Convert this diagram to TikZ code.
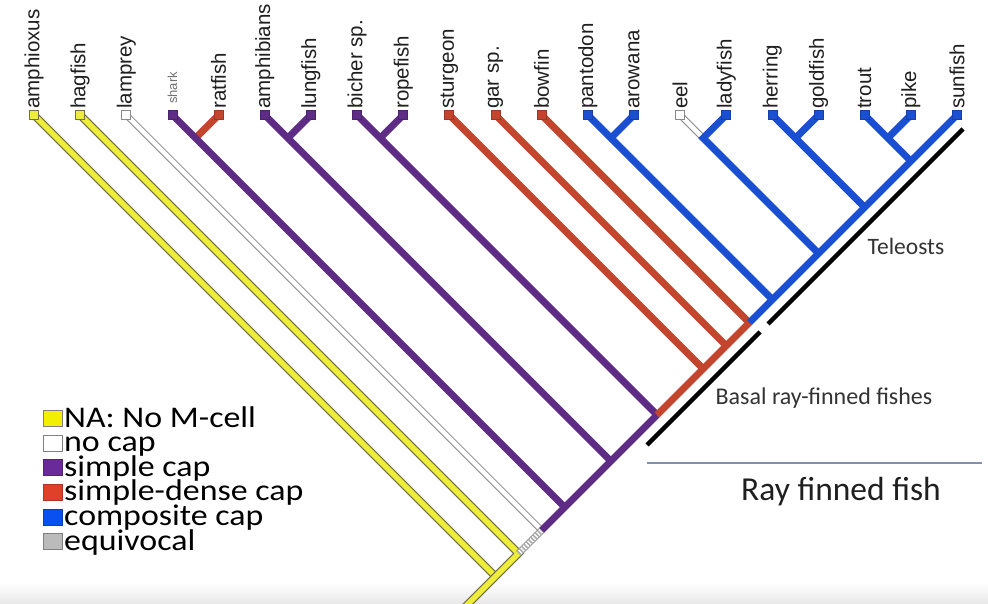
\documentclass[tikz,border=0pt]{standalone}
\usepackage{fontspec}
\usepackage{graphicx}
\setmainfont{Liberation Sans}
\newfontfamily\calib{Carlito}
\usetikzlibrary{calc}
\definecolor{cYel}{HTML}{EEEE3A}
\definecolor{cYelOut}{HTML}{707048}
\definecolor{cPur}{HTML}{5E2C84}
\definecolor{cRed}{HTML}{C4452E}
\definecolor{cBlu}{HTML}{1B4FD2}
\definecolor{cWOut}{HTML}{8A8A8A}
\definecolor{cSlate}{HTML}{8090B0}
\definecolor{lgYel}{HTML}{F2F000}
\definecolor{lgPur}{HTML}{6A2A9A}
\definecolor{lgRed}{HTML}{E0402A}
\definecolor{lgBlu}{HTML}{0A50F0}
\definecolor{lgGry}{HTML}{BBBBBB}
\begin{document}
\begin{tikzpicture}[x=1pt,y=-1pt,
  br/.style={line width=7pt, line join=miter},
  purp/.style={br, draw=cPur},
  redb/.style={br, draw=cRed},
  blub/.style={br, draw=cBlu},
  yelb/.style={draw=cYelOut, double=cYel, double distance=5.6pt, line width=1.2pt, line join=miter},
  whtb/.style={draw=cWOut, double=white, double distance=4.6pt, line width=1pt, line join=miter},
  tipsq/.style={rectangle, minimum size=9pt, inner sep=0pt, line width=0.8pt},
  lab/.style={rotate=90, anchor=west, inner sep=0pt, font=\fontsize{20.5}{24}\selectfont, text=black!88},
  bar/.style={draw=black, line width=4.5pt},
  ann/.style={font=\calib\fontsize{24}{28}\selectfont, text=black!80, inner sep=0pt},
  legsq/.style={rectangle, minimum width=19pt, minimum height=16pt, inner sep=0pt, line width=0.8pt},
  legtx/.style={anchor=base west, inner sep=0pt, font=\calib\fontsize{30}{30}\selectfont, text=black}
]
\useasboundingbox (0,0) rectangle (988,604);
\fill[white] (0,0) rectangle (988,604);
\shade[top color=white,bottom color=black!9] (0,582) rectangle (988,604);
\clip (0,0) rectangle (988,604);

\foreach \i in {0,...,20}{
  \coordinate (T\i) at ({34+46.15*\i},115);
  \coordinate (B\i) at ({(957+34+46.15*\i)/2},{1072-(957+34+46.15*\i)/2});
  \coordinate (P\i) at ({57.075+46.15*\i},138.075);
}
\coordinate (R) at (452,620);

% side branches (right tips to pair nodes)
\draw[redb] (T4) -- (P3);
\draw[purp] (T6) -- (P5);
\draw[purp] (T8) -- (P7);
\draw[blub] (T13) -- (P12);
\draw[whtb] (T14) -- (P14);
\draw[blub] (T17) -- (P16);
\draw[blub] (T19) -- (P18);

% long branches to backbone
\draw[yelb] (T0) -- (B0);
\draw[whtb] (T2) -- (B2);
\draw[purp] (T3) -- (B3);
\draw[purp] (T5) -- (B5);
\draw[purp] (T7) -- (B7);
\draw[redb] (T9) -- (B9);
\draw[redb] (T10) -- (B10);
\draw[redb] (T11) -- (B11);
\draw[blub] (T12) -- (B12);
\draw[blub] (T15) -- (P14) -- (B14);
\draw[blub] (T16) -- (B16);
\draw[blub] (T18) -- (B18);

% backbone
\draw[yelb] (T1) -- (B1) -- (B0) -- (R);
\draw[draw=cWOut, double=white, double distance=5pt, line width=1pt] (B1) -- (B2);
\draw[draw=gray!65, line width=5pt, dash pattern=on 1.6pt off 1.6pt] (B1) -- (B2);
\draw[purp] (B2) -- (B3) -- (B5) -- (B7);
\draw[redb] (B7) -- (B9) -- (B10) -- (B11);
\draw[blub] (B11) -- (B12) -- (B14) -- (B16) -- (B18) -- (T20);

% tip squares
\node[tipsq, fill=cYel, draw=cYelOut] (q0) at (T0) {};
\node[tipsq, fill=cYel, draw=cYelOut] (q1) at (T1) {};
\node[tipsq, fill=white, draw=cWOut] (q2) at (T2) {};
\node[tipsq, fill=cPur, draw=cPur!80!black] (q3) at (T3) {};
\node[tipsq, fill=cRed, draw=cRed!80!black] (q4) at (T4) {};
\foreach \i in {5,6,7,8}{\node[tipsq, fill=cPur, draw=cPur!80!black] (q\i) at (T\i) {};}
\foreach \i in {9,10,11}{\node[tipsq, fill=cRed, draw=cRed!80!black] (q\i) at (T\i) {};}
\node[tipsq, fill=white, draw=cWOut] (q14) at (T14) {};
\foreach \i in {12,13,15,16,17,18,19,20}{\node[tipsq, fill=cBlu, draw=cBlu!80!black] (q\i) at (T\i) {};}

% tip labels
\foreach \i/\t in {0/amphioxus,1/hagfish,2/lamprey,4/ratfish,5/amphibians,6/lungfish,7/bicher sp.,8/ropefish,9/sturgeon,10/gar sp.,11/bowfin,12/pantodon,13/arowana,14/eel,15/ladyfish,16/herring,17/goldfish,18/trout,19/pike,20/sunfish}{
  \node[lab] (lab\i) at ($(T\i)+(0,-6)$) {\t};
}
\node[lab, font=\fontsize{13}{15}\selectfont, text=black!55] (lab3) at ($(T3)+(0,-11)$) {shark};

% clade bars
\coordinate (bb1) at (647,445);
\coordinate (bb2) at (760,332);
\coordinate (tb1) at (768,324);
\coordinate (tb2) at (963,129);
\draw[bar] (bb1) -- (bb2);
\draw[bar] (tb1) -- (tb2);
\node[ann, font=\calib\fontsize{23.5}{28}\selectfont] (tel) at (906,246) {Teleosts};
\node[ann] (basal) at (824,398) {Basal ray-finned fishes};
\coordinate (rf1) at (647,463);
\coordinate (rf2) at (982,463);
\draw[cSlate, line width=2pt] (rf1) -- (rf2);
\node[ann, font=\calib\fontsize{33.5}{36}\selectfont, text=black!88] (rff) at (841,492) {Ray finned fish};

% legend
\foreach \k/\c/\d/\t in {0/lgYel/gray/{NA: No M-cell},1/white/gray/{no cap},2/lgPur/lgPur!80!black/{simple cap},3/lgRed/lgRed!80!black/{simple-dense cap},4/lgBlu/lgBlu!80!black/{composite cap},5/lgGry/gray/{equivocal}}{
  \node[legsq, fill=\c, draw=\d] (lsq\k) at (52.5,{418.5+24.6*\k}) {};
  \node[legtx] (ltx\k) at (64,{427+24.6*\k}) {\scalebox{1.13}[1]{\t}};
}
\end{tikzpicture}
\end{document}
